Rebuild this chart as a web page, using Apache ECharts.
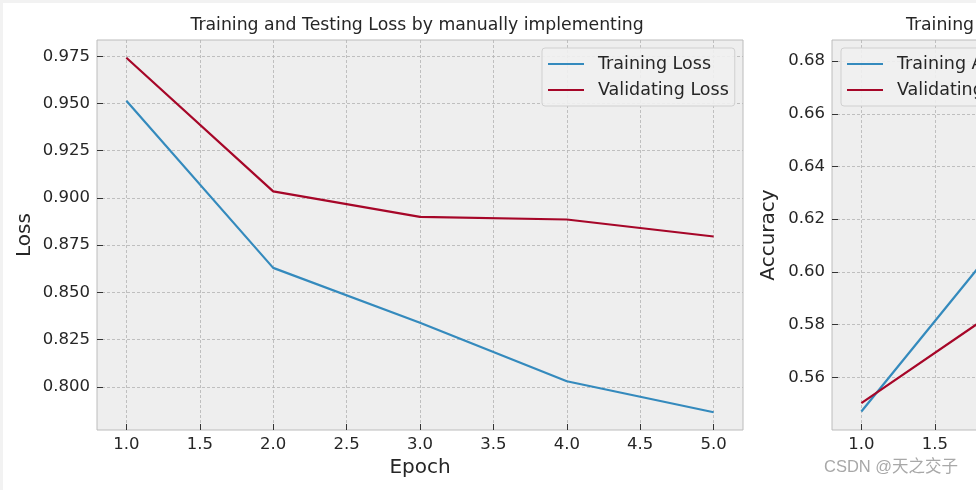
<!DOCTYPE html>
<html>
<head>
<meta charset="utf-8">
<script src="https://cdn.jsdelivr.net/npm/echarts@6/dist/echarts.min.js"></script>
<style>
html,body{margin:0;padding:0;background:#f2f2f2;overflow:hidden;width:976px;height:490px;}
#c{width:1520px;height:490px;}
</style>
</head>
<body>
<div id="c"></div>
<script>
// ---- data ----
const epochs = [1, 2, 3, 4, 5];
const trainLoss = [0.9515, 0.863, 0.834, 0.803, 0.7866];
const valLoss = [0.9742, 0.9035, 0.890, 0.8886, 0.8796];
const trainAcc = [0.547, 0.6155, 0.643, 0.664, 0.681];
const valAcc = [0.5502, 0.5883, 0.600, 0.604, 0.611];
const xTicks = [1.0, 1.5, 2.0, 2.5, 3.0, 3.5, 4.0, 4.5, 5.0];
const lossTicks = [0.800, 0.825, 0.850, 0.875, 0.900, 0.925, 0.950, 0.975];
const accTicks = [0.56, 0.58, 0.60, 0.62, 0.64, 0.66, 0.68];
const titles = ['Training and Testing Loss by manually implementing', 'Training and Testing Accuracy by manually implementing'];
const lossNames = ['Training Loss', 'Validating Loss'];
const accNames = ['Training Accuracy', 'Validating Accuracy'];

const FONT = 'DejaVu Sans';
const TXT = '#262626';
const C1 = '#348ABD', C2 = '#A60628';

function xAxisCfg(gi) {
  return {
    type: 'value', gridIndex: gi, min: 0.8, max: 5.2,
    name: gi === 0 ? 'Epoch' : '', nameLocation: 'middle', nameGap: 26,
    nameTextStyle: {fontFamily: FONT, fontSize: 20, color: TXT},
    axisLine: {show: false},
    axisTick: {show: true, inside: true, length: 6, customValues: xTicks, lineStyle: {color: '#333', width: 1}},
    axisLabel: {customValues: xTicks, formatter: v => v.toFixed(1), fontFamily: FONT, fontSize: 16.5, color: TXT, margin: 6},
    splitLine: {show: true, lineStyle: {color: '#b2b2b2', type: [3, 2], width: 0.8}}
  };
}
function yAxisCfg(gi, min, max, ticks, dec, name, gap) {
  return {
    type: 'value', gridIndex: gi, min: min, max: max,
    name: name, nameLocation: 'middle', nameGap: gap, nameRotate: 90,
    nameTextStyle: {fontFamily: FONT, fontSize: 20, color: TXT},
    axisLine: {show: false},
    axisTick: {show: true, inside: true, length: 6, customValues: ticks, lineStyle: {color: '#333', width: 1}},
    axisLabel: {customValues: ticks, formatter: v => v.toFixed(dec), fontFamily: FONT, fontSize: 16.5, color: TXT, margin: 7},
    splitLine: {show: true, lineStyle: {color: '#b2b2b2', type: [3, 2], width: 0.8}}
  };
}
function legendCfg(left, names) {
  return {
    left: left, top: 48, orient: 'vertical', data: names,
    icon: 'rect', itemWidth: 36, itemHeight: 2, itemGap: 8,
    padding: [7, 6, 7, 6],
    backgroundColor: 'rgba(240,240,240,0.9)', borderColor: '#d0d0d0', borderWidth: 1, borderRadius: 3,
    textStyle: {fontFamily: FONT, fontSize: 17.5, color: TXT, padding: [0, 0, 0, 9]}
  };
}
function lineSeries(name, xi, ys, color) {
  return {
    type: 'line', name: name, xAxisIndex: xi, yAxisIndex: xi,
    data: epochs.map((e, i) => [e, ys[i]]),
    symbol: 'none', lineStyle: {color: color, width: 2.2}, itemStyle: {color: color},
    animation: false
  };
}

const chart = echarts.init(document.getElementById('c'), null, {renderer: 'canvas'});
chart.setOption({
  animation: false,
  backgroundColor: 'transparent',
  graphic: [
    {type: 'rect', z: -10, silent: true, shape: {x: 3, y: 3, width: 1600, height: 490}, style: {fill: '#ffffff'}},
    {type: 'text', left: 824, top: 459, z: 10, style: {text: 'CSDN @天之交子', fontFamily: 'Liberation Sans, Noto Sans CJK SC', fontSize: 16.5, fill: '#a8a8a8'}}
  ],
  title: [
    {text: titles[0], left: 412, top: 12, textAlign: 'center', textStyle: {fontFamily: FONT, fontSize: 17.3, fontWeight: 'normal', color: TXT}},
    {text: titles[1], left: 1148, top: 12, textAlign: 'center', textStyle: {fontFamily: FONT, fontSize: 17.3, fontWeight: 'normal', color: TXT}}
  ],
  grid: [
    {left: 97, top: 40, width: 646, height: 390, show: true, backgroundColor: '#eeeeee', borderColor: '#bcbcbc', borderWidth: 1},
    {left: 832, top: 40, width: 646, height: 390, show: true, backgroundColor: '#eeeeee', borderColor: '#bcbcbc', borderWidth: 1}
  ],
  xAxis: [xAxisCfg(0), xAxisCfg(1)],
  yAxis: [
    yAxisCfg(0, 0.7772, 0.9836, lossTicks, 3, 'Loss', 62),
    yAxisCfg(1, 0.540, 0.688, accTicks, 2, 'Accuracy', 53)
  ],
  legend: [legendCfg(542, lossNames), legendCfg(841, accNames)],
  series: [
    lineSeries(lossNames[0], 0, trainLoss, C1),
    lineSeries(lossNames[1], 0, valLoss, C2),
    lineSeries(accNames[0], 1, trainAcc, C1),
    lineSeries(accNames[1], 1, valAcc, C2)
  ]
});
</script>
</body>
</html>
